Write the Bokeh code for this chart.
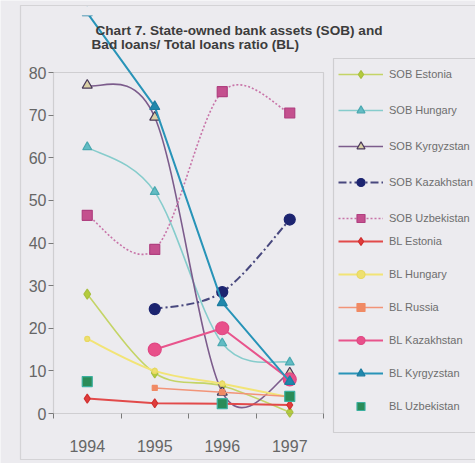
from bokeh.plotting import figure
from bokeh.models import Range1d, FixedTicker, Legend, LegendItem, BoxAnnotation, Label
from bokeh.embed import file_html
from bokeh.resources import INLINE

years = [1994, 1995, 1996, 1997]
y_ticks = [0, 10, 20, 30, 40, 50, 60, 70, 80]

sob_estonia = [28, 9.5, 6.5, 0.3]
sob_hungary = [62.5, 52, 16.5, 12]
sob_kyrgyzstan = [77, 69.5, 5, 9.5]
sob_kazakhstan = [None, 24.5, 28.5, 45.5]
sob_uzbekistan = [46.5, 38.5, 75.5, 70.5]
bl_estonia = [3.5, 2.4, 2.3, 2.0]
bl_hungary = [17.5, 10, 7, 3.8]
bl_russia = [None, 6, 5, 4]
bl_kazakhstan = [None, 15, 20, 8]
bl_kyrgyzstan = [94, 72, 26, 7.5]
bl_uzbekistan = [7.5, None, 2.3, 4]

title_lines = ["Chart 7. State-owned bank assets (SOB) and",
               "Bad loans/ Total loans ratio (BL)"]

BG = "#ecebef"
FONT = "Liberation Sans"
W, H = 475, 463

# pixel layout of the plot area inside the canvas
X0_PX, X_PER_YEAR = 53, 67.5          # left edge of plot area, px per category
Y0_PX, Y_PER_UNIT = 413, 4.2625       # baseline (value 0) from top, px per unit

x_lo = years[0] - 0.5
x_start = x_lo - X0_PX / X_PER_YEAR
x_end = x_start + W / X_PER_YEAR
y_start = -(H - Y0_PX) / Y_PER_UNIT
y_end = Y0_PX / Y_PER_UNIT

p = figure(width=W, height=H, output_backend="svg", toolbar_location=None,
           title_location=None,
           x_range=Range1d(x_start, x_end), y_range=Range1d(y_start, y_end),
           min_border=0, min_border_left=0, min_border_right=0,
           min_border_top=0, min_border_bottom=0)
p.border_fill_color = BG
p.background_fill_color = BG
p.outline_line_color = None
p.xgrid.visible = False
p.ygrid.visible = False

# axes drawn inside the frame at fixed locations
xa = p.xaxis[0]
xa.fixed_location = y_ticks[0]
xa.ticker = FixedTicker(ticks=years,
                        minor_ticks=[y - 0.5 for y in years] + [years[-1] + 0.5])
xa.axis_line_color = None
xa.major_tick_out = 0
xa.major_tick_in = 0
xa.minor_tick_out = 5
xa.minor_tick_in = 0
xa.minor_tick_line_color = "#7a7a7a"
xa.major_label_standoff = 21
xa.major_label_text_font = FONT
xa.major_label_text_font_size = "16px"
xa.major_label_text_color = "#666666"

ya = p.yaxis[0]
ya.fixed_location = x_lo
ya.ticker = FixedTicker(ticks=y_ticks)
ya.axis_line_color = None
ya.major_tick_out = 5
ya.major_tick_in = 0
ya.minor_tick_out = 0
ya.minor_tick_in = 0
ya.major_tick_line_color = "#7a7a7a"
ya.major_label_standoff = 2
ya.major_label_text_font = FONT
ya.major_label_text_font_size = "16px"
ya.major_label_text_color = "#666666"


def smooth(xs, ys, k=1.0 / 6):
    d = dict(x0=[], y0=[], x1=[], y1=[], cx0=[], cy0=[], cx1=[], cy1=[])
    runs, cur = [], []
    for x, y in zip(xs, ys):
        if y is None:
            if cur:
                runs.append(cur)
            cur = []
        else:
            cur.append((x, y))
    if cur:
        runs.append(cur)
    for run in runs:
        n = len(run)
        for i in range(n - 1):
            a = run[max(i - 1, 0)]
            b = run[i]
            c = run[i + 1]
            e = run[min(i + 2, n - 1)]
            d["x0"].append(b[0]); d["y0"].append(b[1])
            d["x1"].append(c[0]); d["y1"].append(c[1])
            d["cx0"].append(b[0] + (c[0] - a[0]) * k)
            d["cy0"].append(b[1] + (c[1] - a[1]) * k)
            d["cx1"].append(c[0] - (e[0] - b[0]) * k)
            d["cy1"].append(c[1] - (e[1] - b[1]) * k)
    return d


def nanify(vals):
    return [float("nan") if v is None else v for v in vals]


series = [
    # label, data, smoothed, line color, width, dash, marker, size, fill, marker line
    ("SOB Estonia", sob_estonia, True, "#c4d466", 1.6, "solid", "diamond", 10, "#b4cc3c", "#a8bf40"),
    ("SOB Hungary", sob_hungary, True, "#86cccc", 1.6, "solid", "triangle", 9, "#62bcc4", "#4aa8b0"),
    ("SOB Kyrgyzstan", sob_kyrgyzstan, True, "#7c5c8c", 1.6, "solid", "triangle", 10, "#d9d0a6", "#4a3a5a"),
    ("SOB Kazakhstan", sob_kazakhstan, True, "#48487e", 2.0, "8 3 2 3", "circle", 11, "#1c2470", "#1c2470"),
    ("SOB Uzbekistan", sob_uzbekistan, True, "#c874a8", 1.6, "2 2", "square", 10, "#c4508e", "#b04080"),
    ("BL Estonia", bl_estonia, False, "#e24a4a", 2.0, "solid", "diamond", 9, "#e03c3c", "#d03030"),
    ("BL Hungary", bl_hungary, True, "#f2e476", 2.0, "solid", "circle", 5, "#eee070", "#e8d860"),
    ("BL Russia", bl_russia, False, "#f29478", 1.6, "solid", "square", 5, "#f08a64", "#f08a64"),
    ("BL Kazakhstan", bl_kazakhstan, False, "#e8548c", 2.0, "solid", "circle", 13, "#e8508a", "#e04884"),
    ("BL Kyrgyzstan", bl_kyrgyzstan, False, "#2894b8", 2.0, "solid", "triangle", 10, "#1f88ac", "#1c7ca0"),
    ("BL Uzbekistan", bl_uzbekistan, False, None, 0, "solid", "square", 10, "#2a8c58", "#3cb0a0"),
]

items = []
for label, vals, sm, lc, lw, dash, mk, sz, fc, mlc in series:
    rends = []
    if lc is not None:
        if sm:
            seg = smooth(years, vals)
            p.bezier(source=seg, x0="x0", y0="y0", x1="x1", y1="y1",
                     cx0="cx0", cy0="cy0", cx1="cx1", cy1="cy1",
                     line_color=lc, line_width=lw, line_dash=dash)
            proxy = p.line(x=years, y=nanify(vals), line_color=lc,
                           line_width=lw, line_dash=dash)
            proxy.visible = False   # legend swatch only
            rends.append(proxy)
        else:
            rends.append(p.line(x=years, y=nanify(vals), line_color=lc,
                                line_width=lw, line_dash=dash))
    rends.append(p.scatter(x=years, y=nanify(vals), marker=mk, size=sz,
                           fill_color=fc, line_color=mlc, line_width=1.2))
    items.append(LegendItem(label=label, renderers=rends))

# plot-area box (0..80)
p.add_layout(BoxAnnotation(left=x_lo, right=years[-1] + 0.5,
                           bottom=y_ticks[0], top=y_ticks[-1],
                           fill_alpha=0, line_color="#8a8a8a", line_width=1.2))


def sbox(left, right, top, bottom, color, fill=None):
    # screen units measured from the canvas' bottom-left corner
    return BoxAnnotation(left=left, right=right, top=H - top, bottom=H - bottom,
                         left_units="screen", right_units="screen",
                         top_units="screen", bottom_units="screen",
                         fill_color=fill, fill_alpha=0 if fill is None else 1,
                         line_color=color, line_width=1.2)


# chart-area clipping strip at the top (hides what runs above the chart area)
p.add_layout(sbox(21, 330, 6, 15, None, BG))
p.add_layout(sbox(20, W + 10, 5, 459, "#9a9a9a"))     # outer chart box
p.add_layout(sbox(333, W + 10, 58, 432, "#8a8a8a"))   # legend box

common = dict(glyph_width=45, glyph_height=20, label_height=20, label_standoff=6,
              padding=0, margin=0, label_text_font=FONT,
              label_text_font_size="11px", label_text_color="#6e6e6e",
              border_line_color=None, background_fill_alpha=0)
leg1 = Legend(items=items[:5], location=(338, H - 228), spacing=16, **common)
leg2 = Legend(items=items[5:], location=(338, H - 416), spacing=13, **common)
p.add_layout(leg1, "center")
p.add_layout(leg2, "center")

p.add_layout(Label(x=95, y=H - 30, x_units="screen", y_units="screen",
                   text=title_lines[0], text_font=FONT, text_font_size="13.6px",
                   text_font_style="bold", text_color="#3c3c3c",
                   text_baseline="middle"))
p.add_layout(Label(x=91, y=H - 44, x_units="screen", y_units="screen",
                   text=title_lines[1], text_font=FONT, text_font_size="13.6px",
                   text_font_style="bold", text_color="#3c3c3c",
                   text_baseline="middle"))

open("out.html", "w").write(file_html(p, INLINE))
